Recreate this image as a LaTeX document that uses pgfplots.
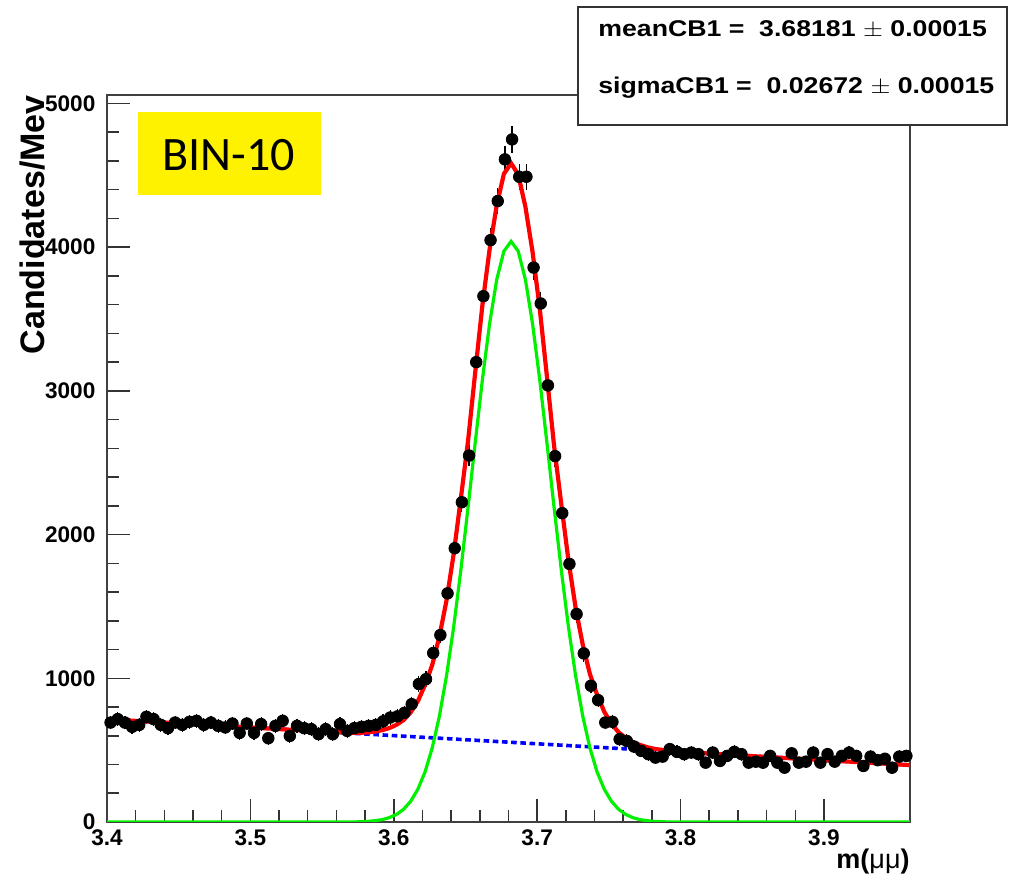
\documentclass[border=0pt]{standalone}
\usepackage{pgfplots}
\pgfplotsset{compat=1.18}
\usepackage{pgfplotstable}
\usepackage{fontspec}
\setmainfont{Liberation Sans}
\newfontfamily\calibri{Carlito}

\pgfplotstableread{
x y ey
3.4025 692 26
3.4075 716 27
3.4125 692 26
3.4175 662 26
3.4225 676 26
3.4275 732 27
3.4325 716 27
3.4375 676 26
3.4425 653 26
3.4475 692 26
3.4525 676 26
3.4575 697 26
3.4625 704 27
3.4675 676 26
3.4725 692 26
3.4775 669 26
3.4825 658 26
3.4875 685 26
3.4925 620 25
3.4975 685 26
3.5025 620 25
3.5075 681 26
3.5125 583 24
3.5175 669 26
3.5225 704 27
3.5275 599 24
3.5325 669 26
3.5375 653 26
3.5425 646 25
3.5475 611 25
3.5525 646 25
3.5575 611 25
3.5625 681 26
3.5675 634 25
3.5725 653 26
3.5775 662 26
3.5825 669 26
3.5875 676 26
3.5925 700 26
3.5975 727 27
3.6025 735 27
3.6075 760 28
3.6125 820 29
3.6175 960 31
3.6225 994 32
3.6275 1176 34
3.6325 1301 36
3.6375 1591 40
3.6425 1905 44
3.6475 2225 47
3.6525 2550 50
3.6575 3200 57
3.6625 3659 60
3.6675 4049 64
3.6725 4321 66
3.6775 4611 68
3.6825 4750 69
3.6875 4490 67
3.6925 4490 67
3.6975 3858 62
3.7025 3608 60
3.7075 3038 55
3.7125 2546 50
3.7175 2149 46
3.7225 1796 42
3.7275 1447 38
3.7325 1173 34
3.7375 948 31
3.7425 848 29
3.7475 692 26
3.7525 697 26
3.7575 576 24
3.7625 564 24
3.7675 525 23
3.7725 495 22
3.7775 472 22
3.7825 448 21
3.7875 455 21
3.7925 507 23
3.7975 488 22
3.8025 472 22
3.8075 483 22
3.8125 472 22
3.8175 413 20
3.8225 483 22
3.8275 425 21
3.8325 460 21
3.8375 488 22
3.8425 472 22
3.8475 413 20
3.8525 420 20
3.8575 413 20
3.8625 460 21
3.8675 413 20
3.8725 378 19
3.8775 478 22
3.8825 413 20
3.8875 420 20
3.8925 483 22
3.8975 413 20
3.9025 472 22
3.9075 420 20
3.9125 460 21
3.9175 483 22
3.9225 460 21
3.9275 390 20
3.9325 455 21
3.9375 430 21
3.9425 440 21
3.9475 378 19
3.9525 455 21
3.9575 460 21
}\datatable

\pgfplotstableread{
x y
3.4000 715
3.4500 686.5
3.5000 658
3.5300 641
3.5618 624
3.5668 622
3.5718 621
3.5768 621
3.5818 623
3.5868 629
3.5918 639
3.5968 653
3.6018 676
3.6068 709
3.6118 763
3.6168 841
3.6218 954
3.6268 1092
3.6318 1290
3.6368 1543
3.6418 1867
3.6468 2254
3.6518 2652
3.6568 3129
3.6618 3596
3.6668 3983
3.6718 4292
3.6768 4510
3.6818 4584
3.6868 4505
3.6918 4281
3.6968 3966
3.7018 3573
3.7068 3100
3.7118 2617
3.7168 2214
3.7218 1822
3.7268 1492
3.7318 1233
3.7368 1029
3.7418 885
3.7468 767
3.7518 684
3.7568 624
3.7618 585
3.7668 556
3.7718 536
3.7768 520
3.7818 509
3.7868 502
3.7918 496
3.7968 491
3.8018 487
3.8500 458.5
3.9000 430
3.9600 396
}\redtable

\pgfplotstableread{
x y
3.4000 0
3.5718 0
3.5768 2
3.5818 4
3.5868 9
3.5918 16
3.5968 30
3.6018 52
3.6068 88
3.6118 144
3.6168 228
3.6218 348
3.6268 515
3.6318 736
3.6368 1018
3.6418 1359
3.6468 1755
3.6518 2189
3.6568 2640
3.6618 3077
3.6668 3466
3.6718 3774
3.6768 3972
3.6818 4040
3.6868 3972
3.6918 3774
3.6968 3466
3.7018 3077
3.7068 2640
3.7118 2189
3.7168 1755
3.7218 1359
3.7268 1018
3.7318 736
3.7368 515
3.7418 348
3.7468 228
3.7518 144
3.7568 88
3.7618 52
3.7668 30
3.7718 16
3.7768 9
3.7818 4
3.7868 2
3.7918 0
3.9600 0
}\greentable

\pgfplotstableread{
x y
3.40 715
3.96 396
}\bluetable

\definecolor{rootred}{RGB}{255,0,0}
\definecolor{rootgreen}{RGB}{0,240,0}
\definecolor{rootblue}{RGB}{0,0,255}

\begin{document}
\begin{tikzpicture}
\path[use as bounding box] (-53.5pt,-30pt) rectangle (451pt,411pt);
\begin{axis}[
  at={(0pt,0pt)}, anchor=south west,
  scale only axis, width=401.5pt, height=363.5pt,
  xmin=3.4, xmax=3.96, ymin=0, ymax=5059,
  axis line style={line width=0.75pt, black!75},
  xtick={3.4,3.5,3.6,3.7,3.8,3.9},
  xticklabels={3.4,3.5,3.6,3.7,3.8,3.9},
  ytick={0,1000,2000,3000,4000,5000},
  yticklabels={0,1000,2000,3000,4000,5000},
  minor x tick num=4, minor y tick num=4,
  tick pos=left, tick align=inside,
  major tick length=11.5pt, minor tick length=6pt,
  every tick/.style={black!80, line width=0.75pt},
  tick label style={font=\fontsize{11.3}{13}\selectfont\bfseries},
  yticklabel style={xshift=-2.3pt},
  xticklabel style={yshift=-0.3pt},
  xlabel={m({\mdseries μμ})},
  xlabel style={at={(rel axis cs:1,0)}, anchor=base east, yshift=-23.5pt, inner sep=0pt, font=\fontsize{13.5}{15}\selectfont\bfseries},
]
\addplot[only marks, mark=*, mark size=2.9pt, black,
  error bars/.cd, y dir=both, y explicit,
  error bar style={line width=0.6pt, black},
  error mark options={mark size=1.6pt, line width=0.6pt, black}]
  table[x=x, y=y, y error=ey]{\datatable};
\addplot[rootblue, line width=1.8pt, dash pattern=on 2.8pt off 1.8pt] table[x=x,y=y]{\bluetable};
\addplot[rootgreen, line width=1.6pt] table[x=x,y=y]{\greentable};
\addplot[rootred, line width=2.1pt] table[x=x,y=y]{\redtable};
\end{axis}
\node[rotate=90, anchor=south east, inner sep=0pt, font=\fontsize{17}{20}\selectfont\bfseries] at (-30.5pt,363.5pt) {Candidates/Mev};
\fill[yellow] (15.5pt,313.5pt) rectangle (107pt,355pt);
\node[font=\calibri\fontsize{24}{28}\selectfont] at (61pt,333.5pt) {BIN-10};
\draw[line width=0.75pt, black!80, fill=white] (235.5pt,348.5pt) rectangle (450pt,407.5pt);
\node[anchor=base west, inner sep=0pt] at (245.5pt,392.6pt) {\scalebox{1.17}[1]{\fontsize{11.4}{14}\selectfont\bfseries meanCB1 = \ 3.68181 {\mdseries$\pm$} 0.00015}};
\node[anchor=base west, inner sep=0pt] at (245.5pt,364pt) {\scalebox{1.17}[1]{\fontsize{11.4}{14}\selectfont\bfseries sigmaCB1 = \ 0.02672 {\mdseries$\pm$} 0.00015}};
\end{tikzpicture}
\end{document}
